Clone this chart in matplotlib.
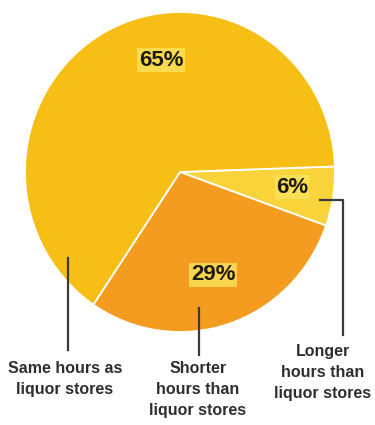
import matplotlib
matplotlib.use("Agg")
import matplotlib.pyplot as plt

# Share of stores by opening hours compared with liquor stores
categories = ["Longer\nhours than\nliquor stores",
              "Shorter\nhours than\nliquor stores",
              "Same hours as\nliquor stores"]
shares = [6, 29, 65]
pct_labels = ["6%", "29%", "65%"]
colors = ["#f8d43a", "#f39c1f", "#f7bf16"]

W, H = 375, 425
fig = plt.figure(figsize=(W / 100, H / 100), dpi=100)
fig.patch.set_facecolor("white")

# pie axes, slightly taller than wide as in the scan
ax = fig.add_axes([25 / W, (H - 332) / H, 310 / W, 320 / H])
ax.pie(shares, colors=colors, startangle=2, counterclock=False,
       radius=1.0, wedgeprops=dict(edgecolor="white", linewidth=1.3))
ax.set_aspect("auto")
ax.set_xlim(-1, 1)
ax.set_ylim(-1, 1)
ax.axis("off")

# overlay axes in pixel coords for labels and leader lines
ov = fig.add_axes([0, 0, 1, 1])
ov.set_xlim(0, W)
ov.set_ylim(H, 0)
ov.axis("off")

font = ["Liberation Sans", "DejaVu Sans"]
glow = dict(boxstyle="square,pad=0.06", facecolor="#fae35c", edgecolor="none", alpha=0.8)

pct_pos = [(292, 187), (213, 275), (161, 60)]
for (x, y), t in zip(pct_pos, pct_labels):
    ov.text(x, y, t, ha="center", va="center", fontsize=16, fontweight="bold",
            color="#1e1a14", family=font, bbox=glow)

cat_pos = [(323, 344), (198, 361), (65, 361)]
for (x, y), t in zip(cat_pos, categories):
    ov.text(x, y, t, ha="center", va="top", fontsize=11.5, fontweight="bold",
            color="#2e2e2e", family=font, linespacing=1.5)

lc = "#3a3a3a"
ov.plot([68, 68], [258, 350], color=lc, lw=1.6)
ov.plot([199, 199], [308, 355], color=lc, lw=1.6)
ov.plot([320, 343, 343], [200, 200, 335], color=lc, lw=1.6)

fig.savefig("out.png", dpi=100, facecolor="white")
